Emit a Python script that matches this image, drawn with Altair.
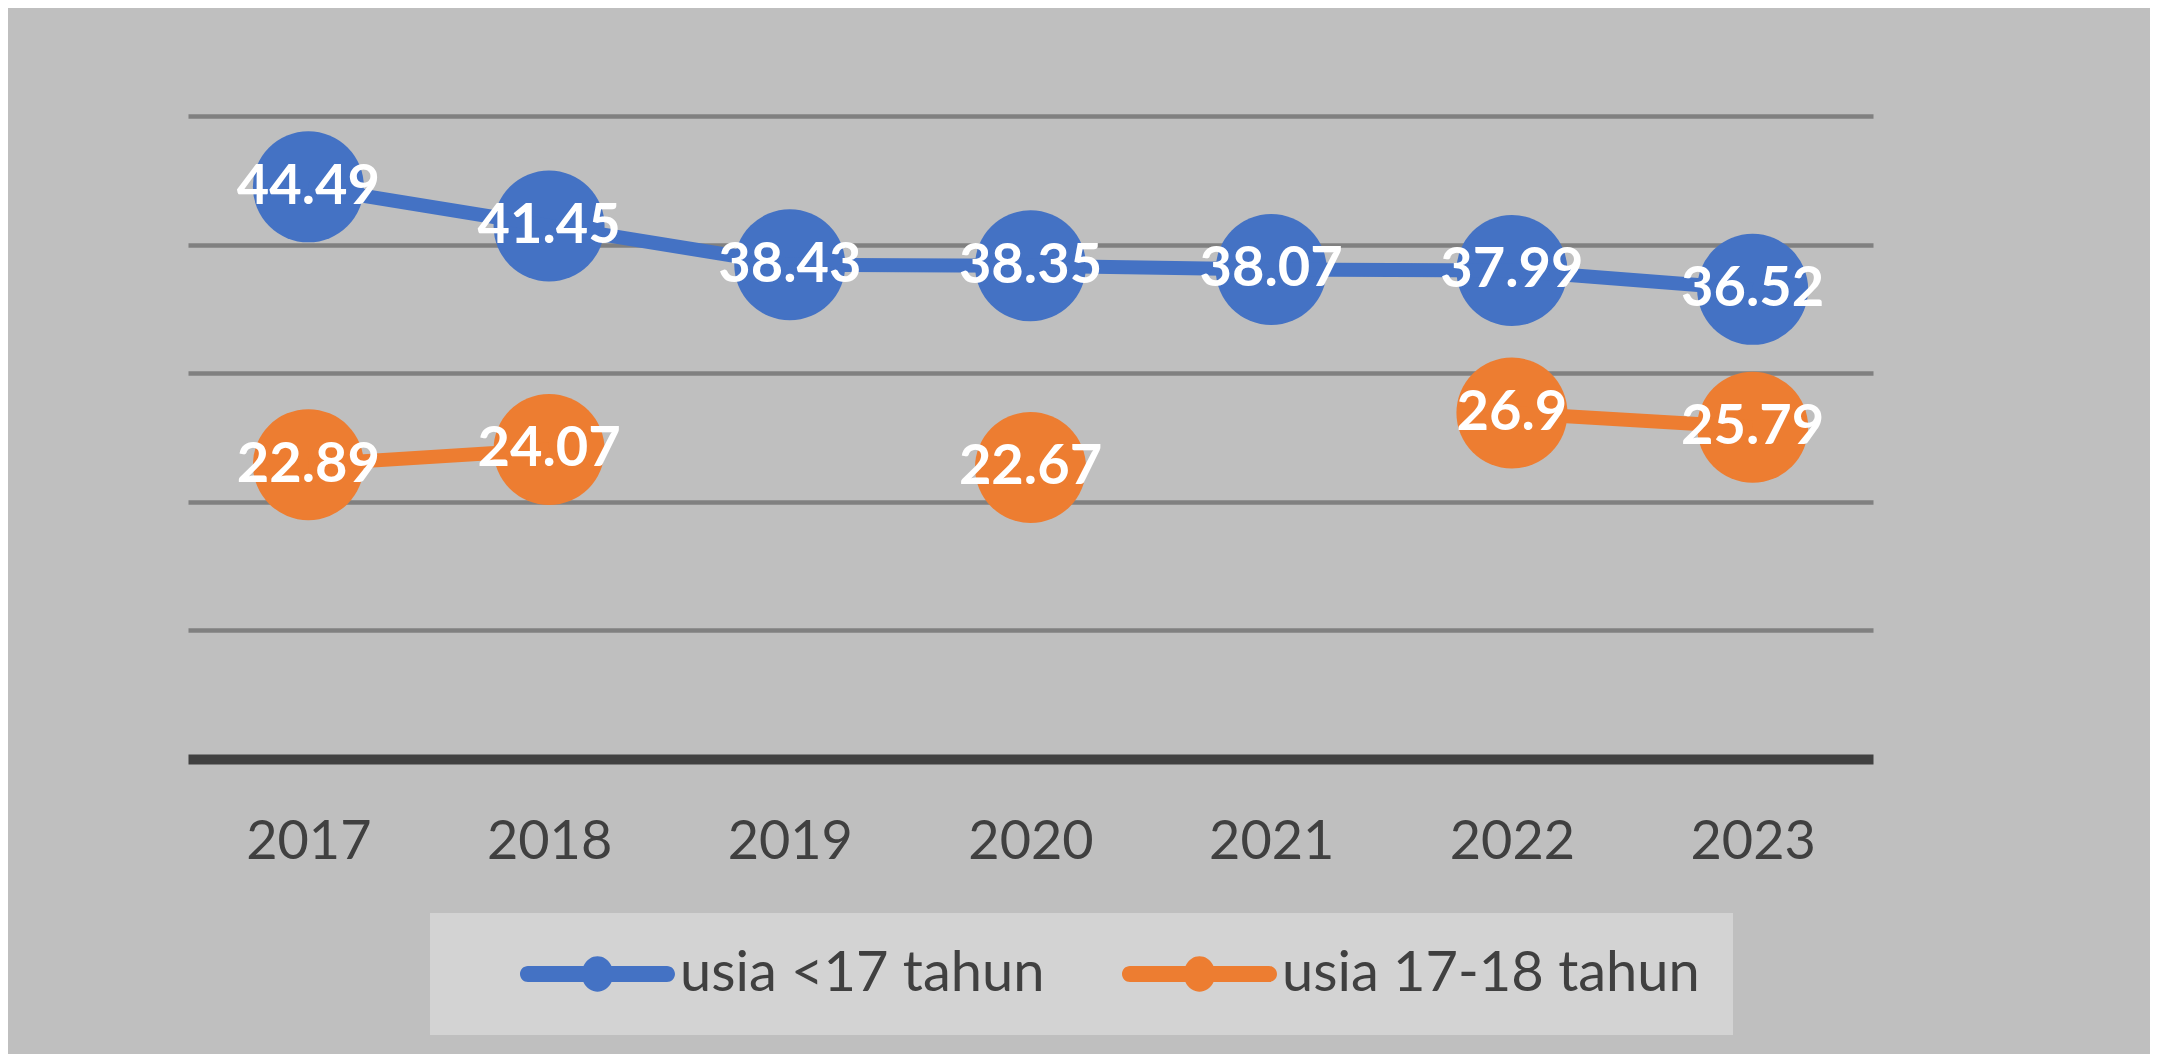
import altair as alt
import pandas as pd

years = ["2017", "2018", "2019", "2020", "2021", "2022", "2023"]
series_names = ["usia <17 tahun", "usia 17-18 tahun"]
under17 = [44.49, 41.45, 38.43, 38.35, 38.07, 37.99, 36.52]
age17_18 = [22.89, 24.07, None, 22.67, None, 26.9, 25.79]
colors = ["#4472C4", "#ED7D31"]
grid_values = [10, 20, 30, 40, 50]

rows = []
for name, vals in zip(series_names, [under17, age17_18]):
    for yr, v in zip(years, vals):
        rows.append({"year": yr, "series": name, "value": v,
                     "label": "" if v is None else f"{v:g}"})
df = pd.DataFrame(rows)

# legend symbol: rounded bar with a dot in the middle (unit = 28px, centre at 28px)
# a zero-area sliver on the left keeps the left gap inside the legend box
SYMBOL = ("M-0.893,0 L-0.893,0.001 Z "
          "M1.321,-0.286 H6.285 A0.286,0.286 0 0,1 6.285,0.286 "
          "H1.321 A0.286,0.286 0 0,1 1.321,-0.286 Z "
          "M3.250,0 A0.554,0.607 0 1,1 4.357,0 A0.554,0.607 0 1,1 3.250,0 Z")

FONT = "Lato"

color = alt.Color(
    "series:N",
    scale=alt.Scale(domain=series_names, range=colors),
    legend=alt.Legend(
        title=None, orient="none", legendX=242, legendY=797,
        direction="horizontal", fillColor="#D3D3D3", padding=33,
        columnPadding=20, symbolType=SYMBOL, symbolSize=3136,
        symbolStrokeWidth=0, symbolOpacity=1, labelFont=FONT,
        labelFontSize=56, labelColor="#404040", labelOffset=161,
        labelLimit=0,
    ),
)

x = alt.X(
    "year:N", sort=years,
    scale=alt.Scale(type="point", domain=years, padding=0.5),
    axis=alt.Axis(title=None, labelAngle=0, labelFont=FONT, labelFontSize=54,
                  labelColor="#404040", ticks=False, domainColor="#404040",
                  domainWidth=10, labelPadding=56, grid=False),
)
y = alt.Y(
    "value:Q",
    scale=alt.Scale(domain=[0, 50]),
    axis=alt.Axis(title=None, labels=False, ticks=False, domain=False,
                  values=grid_values, grid=True, gridColor="#808080",
                  gridWidth=4.5),
)

base = alt.Chart(df)

circles = base.mark_circle(size=12321, opacity=1).encode(
    x=x, y=y, color=color
).transform_filter("isValid(datum.value)")

lines = base.mark_line(strokeWidth=14, invalid="break-paths-filter-domains").encode(
    x=x, y=y, color=color
)

labels = base.mark_text(
    font=FONT, fontWeight="bold", fontSize=56, color="white",
    align="center", baseline="middle"
).encode(x=x, y=y, text="label:N").transform_filter("isValid(datum.value)")

chart = alt.layer(circles, lines, labels).properties(
    width=1685, height=643,
    autosize=alt.AutoSizeParams(type="none"),
    padding={"left": 180, "top": 108, "right": 277, "bottom": 295},
    background="#BFBFBF",
).configure_view(strokeWidth=0)

chart.save("out.html", embed_options={"renderer": "svg", "actions": False})
